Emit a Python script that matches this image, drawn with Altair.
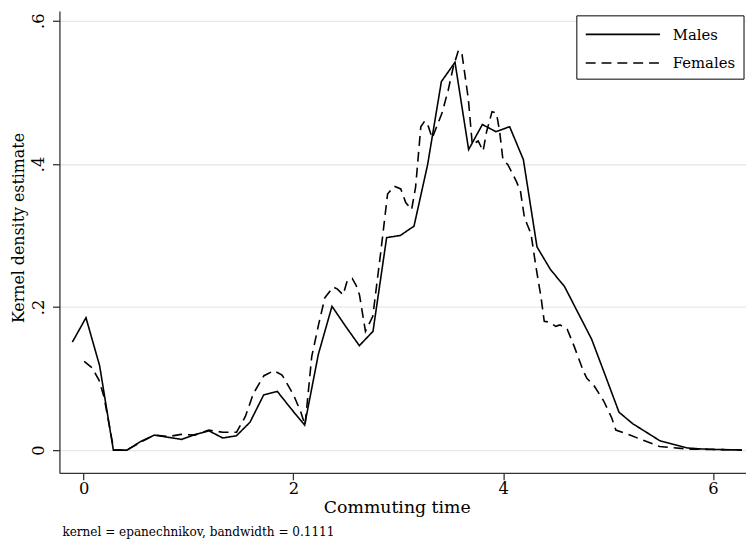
import altair as alt
import pandas as pd

# ---- data ----
male_x = [-0.108, 0.022, 0.152, 0.283, 0.413, 0.543, 0.674, 0.804, 0.934, 1.065,
          1.195, 1.325, 1.456, 1.586, 1.716, 1.847, 1.977, 2.107, 2.238, 2.368,
          2.498, 2.629, 2.759, 2.889, 3.020, 3.150, 3.280, 3.411, 3.541, 3.671,
          3.802, 3.932, 4.062, 4.193, 4.323, 4.453, 4.584, 4.714, 4.844, 4.975,
          5.105, 5.235, 5.366, 5.496, 5.626, 5.757, 5.887, 6.017, 6.148, 6.278]
male_y = [0.151, 0.185, 0.118, 0.0, 0.0, 0.012, 0.021, 0.018, 0.015, 0.022,
          0.027, 0.017, 0.020, 0.039, 0.077, 0.082, 0.058, 0.035, 0.134, 0.201,
          0.173, 0.146, 0.166, 0.297, 0.300, 0.313, 0.399, 0.515, 0.542, 0.420,
          0.455, 0.445, 0.452, 0.406, 0.284, 0.252, 0.229, 0.192, 0.155, 0.104,
          0.053, 0.037, 0.025, 0.013, 0.008, 0.003, 0.0017, 0.001, 0.0005, 0.0002]

female_x = [0.005, 0.080, 0.146, 0.193, 0.288, 0.410, 0.542, 0.675, 0.807, 0.929,
            1.061, 1.193, 1.325, 1.458, 1.542, 1.618, 1.719, 1.813, 1.892, 2.002,
            2.071, 2.111, 2.175, 2.241, 2.300, 2.379, 2.420, 2.474, 2.514, 2.561,
            2.599, 2.630, 2.687, 2.757, 2.835, 2.898, 2.960, 3.024, 3.071, 3.127,
            3.165, 3.215, 3.253, 3.288, 3.323, 3.417, 3.476, 3.524, 3.574, 3.608,
            3.668, 3.706, 3.762, 3.809, 3.842, 3.894, 3.936, 3.967, 3.998, 4.045,
            4.125, 4.165, 4.203, 4.266, 4.313, 4.360, 4.392, 4.439, 4.502, 4.542,
            4.580, 4.611, 4.675, 4.769, 4.800, 4.863, 4.958, 5.036, 5.075, 5.209,
            5.492, 5.775, 6.278]
female_y = [0.124, 0.115, 0.098, 0.075, 0.0, 0.0, 0.011, 0.021, 0.019, 0.022,
            0.021, 0.028, 0.025, 0.025, 0.047, 0.079, 0.104, 0.111, 0.105, 0.077,
            0.053, 0.035, 0.131, 0.176, 0.213, 0.228, 0.225, 0.217, 0.237, 0.240,
            0.230, 0.217, 0.166, 0.187, 0.279, 0.358, 0.369, 0.365, 0.346, 0.336,
            0.367, 0.452, 0.460, 0.452, 0.436, 0.471, 0.503, 0.535, 0.559, 0.553,
            0.491, 0.427, 0.432, 0.418, 0.445, 0.473, 0.471, 0.445, 0.406, 0.399,
            0.376, 0.362, 0.325, 0.302, 0.256, 0.215, 0.180, 0.179, 0.173, 0.175,
            0.172, 0.169, 0.146, 0.109, 0.100, 0.091, 0.069, 0.045, 0.028, 0.021,
            0.005, 0.0014, 0.0002]

series = ["Males", "Females"]
x_ticks = [0, 2, 4, 6]
y_ticks = [0, 0.2, 0.4, 0.6]
x_title = "Commuting time"
y_title = "Kernel density estimate"
note = "kernel = epanechnikov, bandwidth = 0.1111"

df = pd.concat([
    pd.DataFrame({"x": male_x, "y": male_y, "sex": series[0]}),
    pd.DataFrame({"x": female_x, "y": female_y, "sex": series[1]}),
])

FONT = "DejaVu Serif"
W, H = 694, 467

lines = alt.Chart(df).mark_line(color="black", strokeWidth=1.6).encode(
    x=alt.X("x:Q",
            scale=alt.Scale(domain=[-0.2311, 6.316], nice=False, zero=False),
            axis=alt.Axis(values=x_ticks, format="d", title=x_title, grid=False,
                          tickSize=7, labelPadding=14, labelBaseline="alphabetic",
                          labelFont=FONT, titleFont=FONT,
                          labelFontSize=16.5, titleFontSize=17.5, titleFontWeight="normal",
                          titleX=341, titleY=40, titleBaseline="alphabetic",
                          titleAlign="center")),
    y=alt.Y("y:Q",
            scale=alt.Scale(domain=[-0.0318, 0.6138], nice=False, zero=False),
            axis=alt.Axis(values=y_ticks, title=y_title, grid=True,
                          gridColor="#e8e8e8", gridWidth=1.3,
                          labelExpr="datum.value == 0 ? '0' : replace(format(datum.value, '.1f'), '0.', '.')",
                          tickSize=7, labelPadding=9, labelAngle=270,
                          labelAlign="center", labelBaseline="alphabetic",
                          labelFont=FONT, titleFont=FONT,
                          labelFontSize=16.5, titleFontSize=16, titleFontWeight="normal",
                          titleAngle=270, titleX=-36, titleY=219,
                          titleAlign="center", titleBaseline="alphabetic")),
    strokeDash=alt.StrokeDash("sex:N",
                              scale=alt.Scale(domain=series, range=[[1, 0], [10, 6]]),
                              legend=None),
    detail="sex:N",
)

one = pd.DataFrame({"a": [0]})

box = alt.Chart(one).mark_rect(fill="white", stroke="black", strokeWidth=1).encode(
    x=alt.value(523), x2=alt.value(692), y=alt.value(5), y2=alt.value(69))

rule_m = alt.Chart(one).mark_rule(color="black", strokeWidth=1.6).encode(
    x=alt.value(532), x2=alt.value(607), y=alt.value(23.7))
rule_f = alt.Chart(one).mark_rule(color="black", strokeWidth=1.6, strokeDash=[10, 6]).encode(
    x=alt.value(532), x2=alt.value(607), y=alt.value(52.7))

txt_m = alt.Chart(pd.DataFrame({"t": [series[0]]})).mark_text(
    align="left", baseline="middle", font=FONT, fontSize=15, color="black").encode(
    x=alt.value(620), y=alt.value(24), text="t:N")
txt_f = alt.Chart(pd.DataFrame({"t": [series[1]]})).mark_text(
    align="left", baseline="middle", font=FONT, fontSize=15, color="black").encode(
    x=alt.value(620), y=alt.value(53), text="t:N")

foot = alt.Chart(pd.DataFrame({"t": [note]})).mark_text(
    align="left", baseline="alphabetic", font=FONT, fontSize=12.2, color="black").encode(
    x=alt.value(3), y=alt.value(531), text="t:N")

chart = alt.layer(lines, box, rule_m, rule_f, txt_m, txt_f, foot).properties(
    width=W, height=H,
    autosize=alt.AutoSizeParams(type="none"),
    padding={"left": 52, "top": 0, "right": 0, "bottom": 74},
    background="white",
).configure_view(stroke=None).configure_axis(
    labelFont=FONT, titleFont=FONT, labelColor="black", titleColor="black",
    titleFontWeight="normal", domainColor="#333333", domainWidth=1.3,
    tickColor="#333333", tickWidth=1.3,
)

chart.save("out.html", embed_options={"renderer": "svg", "actions": False})
